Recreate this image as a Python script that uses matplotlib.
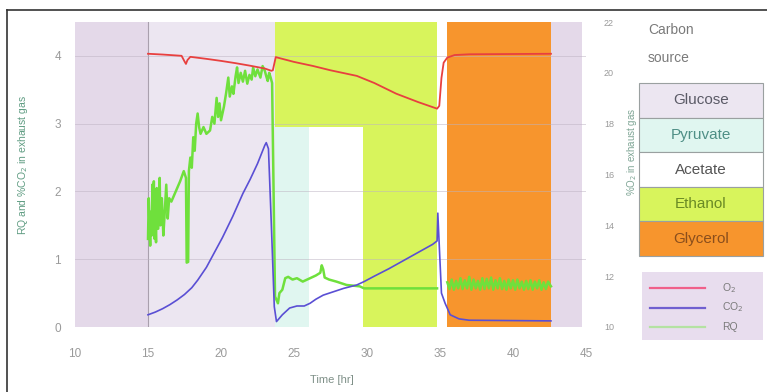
import matplotlib
matplotlib.use("Agg")
import matplotlib.pyplot as plt
from matplotlib.patches import Rectangle
from matplotlib.lines import Line2D
import numpy as np

plt.rcParams['font.family'] = ['Liberation Sans', 'DejaVu Sans']

# ---------------- data ----------------
carbon_sources = ['Glucose', 'Pyruvate', 'Acetate', 'Ethanol', 'Glycerol']
source_colors = ['#ece6f1', '#e0f6f0', '#ffffff', '#d8f45c', '#f7952d']
source_text_colors = ['#5a5a66', '#4f8f86', '#555555', '#6a8a25', '#8a4e1c']

# phases: (source, start, end, top in left-axis units); 'Switch' = white gap
phase_source = ['Glucose', 'Ethanol', 'Pyruvate', 'Acetate', 'Ethanol', 'Switch', 'Glycerol']
phase_start = [15.0, 23.7, 23.7, 26.0, 29.75, 34.8, 35.45]
phase_end = [23.7, 34.8, 26.0, 29.75, 34.8, 35.45, 42.6]
phase_top = [4.5, 4.5, 2.95, 2.95, 4.5, 4.5, 4.5]
background_start, background_end = 10.0, 44.7

o2_time = [15.0, 16.0, 17.3, 17.5, 17.6, 17.7, 17.9, 19.0, 20.0, 21.0, 22.0, 23.0,
           23.45, 23.55, 23.75, 24.0, 25.0, 26.3, 27.5, 29.3, 30.5, 32.0, 33.5,
           34.8, 34.95, 35.1, 35.25, 35.5, 36.0, 37.0, 42.6]
o2_pct = [20.75, 20.72, 20.67, 20.45, 20.35, 20.5, 20.63, 20.55, 20.47, 20.38, 20.28, 20.17,
          20.08, 20.1, 20.62, 20.58, 20.43, 20.27, 20.1, 19.88, 19.6, 19.18, 18.85,
          18.59, 18.7, 19.8, 20.4, 20.6, 20.7, 20.73, 20.75]

co2_time = [15.0, 15.5, 16.0, 16.5, 17.0, 17.5, 18.0, 18.4, 19.0, 19.5, 20.1, 20.8,
            21.5, 22.0, 22.5, 23.0, 23.1, 23.25, 23.45, 23.65, 23.8, 24.2, 24.7,
            25.2, 25.7, 26.1, 26.5, 27.0, 27.7, 28.4, 29.3, 29.8, 30.5, 31.5, 32.5,
            33.5, 34.5, 34.8, 34.85, 34.95, 35.1, 35.35, 35.7, 36.3, 37.0, 42.6]
co2_pct = [0.18, 0.22, 0.27, 0.33, 0.40, 0.48, 0.58, 0.69, 0.88, 1.08, 1.32, 1.63,
           1.97, 2.18, 2.41, 2.68, 2.72, 2.63, 1.5, 0.3, 0.08, 0.18, 0.28,
           0.31, 0.31, 0.35, 0.41, 0.47, 0.52, 0.57, 0.62, 0.67, 0.75, 0.86, 0.98,
           1.10, 1.22, 1.27, 1.68, 1.2, 0.5, 0.35, 0.18, 0.12, 0.10, 0.09]

rq_time = [15.0, 15.05, 15.1, 15.15, 15.2, 15.25, 15.3, 15.35, 15.4, 15.45, 15.5, 15.55,
           15.6, 15.7, 15.8, 15.85, 15.95, 16.05, 16.15, 16.25, 16.35, 16.45, 16.6, 16.9,
           17.2, 17.45, 17.6, 17.65, 17.75, 17.8, 17.9, 18.0, 18.1, 18.2, 18.3, 18.4,
           18.5, 18.6, 18.8, 19.0, 19.25, 19.4, 19.55, 19.7, 19.8, 19.9, 20.0, 20.2,
           20.35, 20.5, 20.6, 20.75, 20.85, 21.0, 21.1, 21.2, 21.35, 21.5, 21.65, 21.8,
           21.95, 22.1, 22.2, 22.35, 22.5, 22.7, 22.85, 23.0, 23.1, 23.2, 23.3, 23.4,
           23.5, 23.6, 23.7, 23.8, 23.9, 24.0, 24.2, 24.4, 24.6, 24.9, 25.2, 25.6,
           25.9, 26.1, 26.5, 26.8, 26.9, 27.0, 27.1, 27.4, 27.9, 28.6, 29.5, 29.8,
           34.8, 35.1,
           35.5, 35.65, 35.8, 35.95, 36.1, 36.25, 36.4, 36.55, 36.7, 36.85, 37.0, 37.15,
           37.3, 37.45, 37.6, 37.75, 37.9, 38.05, 38.2, 38.35, 38.5, 38.65, 38.8, 38.95,
           39.1, 39.25, 39.4, 39.55, 39.7, 39.85, 40.0, 40.15, 40.3, 40.45, 40.6, 40.75,
           40.9, 41.05, 41.2, 41.35, 41.5, 41.65, 41.8, 41.95, 42.1, 42.25, 42.4, 42.6]
rq_value = [1.3, 1.9, 1.5, 1.2, 1.7, 1.35, 2.1, 1.4, 2.15, 1.3, 1.6, 1.25,
            2.05, 1.45, 2.2, 1.5, 1.9, 1.35, 1.7, 2.1, 1.6, 1.9, 1.85, 2.0,
            2.15, 2.3, 2.2, 0.95, 0.96, 2.3, 2.5, 2.35, 2.8, 2.6, 3.0, 3.15,
            2.95, 2.85, 2.95, 2.85, 2.9, 3.1, 3.0, 3.38, 3.1, 3.3, 3.05, 3.25,
            3.45, 3.68, 3.4, 3.55, 3.44, 3.7, 3.83, 3.6, 3.75, 3.62, 3.78, 3.59,
            3.72, 3.65, 3.83, 3.7, 3.8, 3.68, 3.85, 3.78, 3.7, 3.63, 3.75, 3.68,
            3.6, 2.0, 0.45, 0.4, 0.35, 0.5, 0.55, 0.72, 0.74, 0.7, 0.72, 0.67,
            0.7, 0.72, 0.76, 0.8, 0.91, 0.85, 0.73, 0.7, 0.67, 0.62, 0.6, 0.57,
            0.57, np.nan,
            0.66, 0.56, 0.7, 0.55, 0.68, 0.57, 0.72, 0.56, 0.69, 0.57, 0.74, 0.55,
            0.7, 0.57, 0.68, 0.55, 0.72, 0.56, 0.71, 0.57, 0.73, 0.55, 0.69, 0.57,
            0.72, 0.56, 0.68, 0.55, 0.7, 0.57, 0.69, 0.55, 0.7, 0.57, 0.67, 0.55,
            0.68, 0.56, 0.69, 0.55, 0.67, 0.57, 0.69, 0.55, 0.66, 0.56, 0.67, 0.6]

x_ticks = [10, 15, 20, 25, 30, 35, 40, 45]
left_ticks = [0, 1, 2, 3, 4]
right_ticks = [10, 12, 14, 16, 18, 20, 22]

line_labels = ['O$_2$', 'CO$_2$', 'RQ']
line_colors = ['#e8403f', '#5a4fd4', '#6fe03c']
legend_line_colors = ['#f0608a', '#7060d0', '#b4e2a2']

# ---------------- figure ----------------
W, H = 767, 392
fig = plt.figure(figsize=(W / 100, H / 100), dpi=100)
ax = fig.add_axes([75 / W, 1 - 327 / H, (586 - 75) / W, (327 - 22) / H])
ax.set_xlim(10, 45)
ax.set_ylim(0, 4.5)
for s in ax.spines.values():
    s.set_visible(False)

# backgrounds
ax.axvspan(background_start, background_end, color='#e4d9e9', zorder=0.2, lw=0)
col = dict(zip(carbon_sources, source_colors))
col['Switch'] = '#ffffff'
for src, a, b, top in zip(phase_source, phase_start, phase_end, phase_top):
    ax.fill_between([a, b], 0, top, color=col[src], lw=0, zorder=0.5)
ax.axvline(phase_start[0], color='#a9a0ad', lw=0.8, zorder=0.6)
ax.axhline(0, color='#cfc6d3', lw=0.6, zorder=0.6)
ax.set_yticks(left_ticks)
ax.set_xticks(x_ticks)
ax.grid(axis='y', color='#bdb3c2', lw=0.6, alpha=0.6)
ax.set_axisbelow(False)
ax.tick_params(length=0, labelsize=8.5, labelcolor='#9a9a9a')
ax.tick_params(axis='x', pad=15)
ax.tick_params(axis='y', pad=10)

ax2 = ax.twinx()
ax2.set_ylim(10, 22)
ax2.set_yticks(right_ticks)
for s in ax2.spines.values():
    s.set_visible(False)
ax2.tick_params(length=0, labelsize=6.5, labelcolor='#9a9a9a', pad=13)

ax2.plot(o2_time, o2_pct, color=line_colors[0], lw=1.3, zorder=3)
ax.plot(co2_time, co2_pct, color=line_colors[1], lw=1.2, zorder=3)
ax.plot(rq_time, rq_value, color=line_colors[2], lw=1.8, zorder=2.8)

# axis labels
fig.text(23 / W, 1 - 165 / H, 'RQ and %CO$_2$ in exhaust gas', rotation=90,
         ha='center', va='center', fontsize=7.5, color='#5f9c82')
fig.text(632 / W, 1 - 152 / H, '%O$_2$ in exhaust gas', rotation=90,
         ha='center', va='center', fontsize=7, color='#7fa595')
fig.text(332 / W, 1 - 380 / H, 'Time [hr]', ha='center', va='center',
         fontsize=8, color='#7f9088')

# carbon source legend
fig.text(648 / W, 1 - 30 / H, 'Carbon', ha='left', va='center', fontsize=10, color='#7a7a7a')
fig.text(648 / W, 1 - 58 / H, 'source', ha='left', va='center', fontsize=10, color='#7a7a7a')
bx0, bw, bh, btop = 639, 124, 34.6, 83
for i, (name, fc, tc) in enumerate(zip(carbon_sources, source_colors, source_text_colors)):
    y0 = btop + i * bh
    fig.patches.append(Rectangle((bx0 / W, 1 - (y0 + bh) / H), bw / W, bh / H,
                                 transform=fig.transFigure, facecolor=fc,
                                 edgecolor='#9aa0a0', lw=0.8))
    fig.text((bx0 + bw / 2) / W, 1 - (y0 + bh / 2) / H, name, ha='center', va='center',
             fontsize=11, color=tc)

# line legend
fig.patches.append(Rectangle((642 / W, 1 - 340 / H), 121 / W, 68 / H,
                             transform=fig.transFigure, facecolor='#e8ddee', edgecolor='none'))
for i, (lab, lc) in enumerate(zip(line_labels, legend_line_colors)):
    yy = 1 - (288 + i * 19.5) / H
    fig.lines.append(Line2D([650 / W, 705 / W], [yy, yy], transform=fig.transFigure,
                            color=lc, lw=1.6))
    fig.text(722 / W, yy, lab, ha='left', va='center', fontsize=7.5, color='#7a7a7a')

# frame
fig.lines.append(Line2D([7 / W, 1], [1 - 10 / H, 1 - 10 / H], transform=fig.transFigure,
                        color='#333333', lw=1.2))
fig.lines.append(Line2D([7 / W, 7 / W], [0, 1 - 10 / H], transform=fig.transFigure,
                        color='#333333', lw=1.2))

fig.savefig('out.png', dpi=100)
